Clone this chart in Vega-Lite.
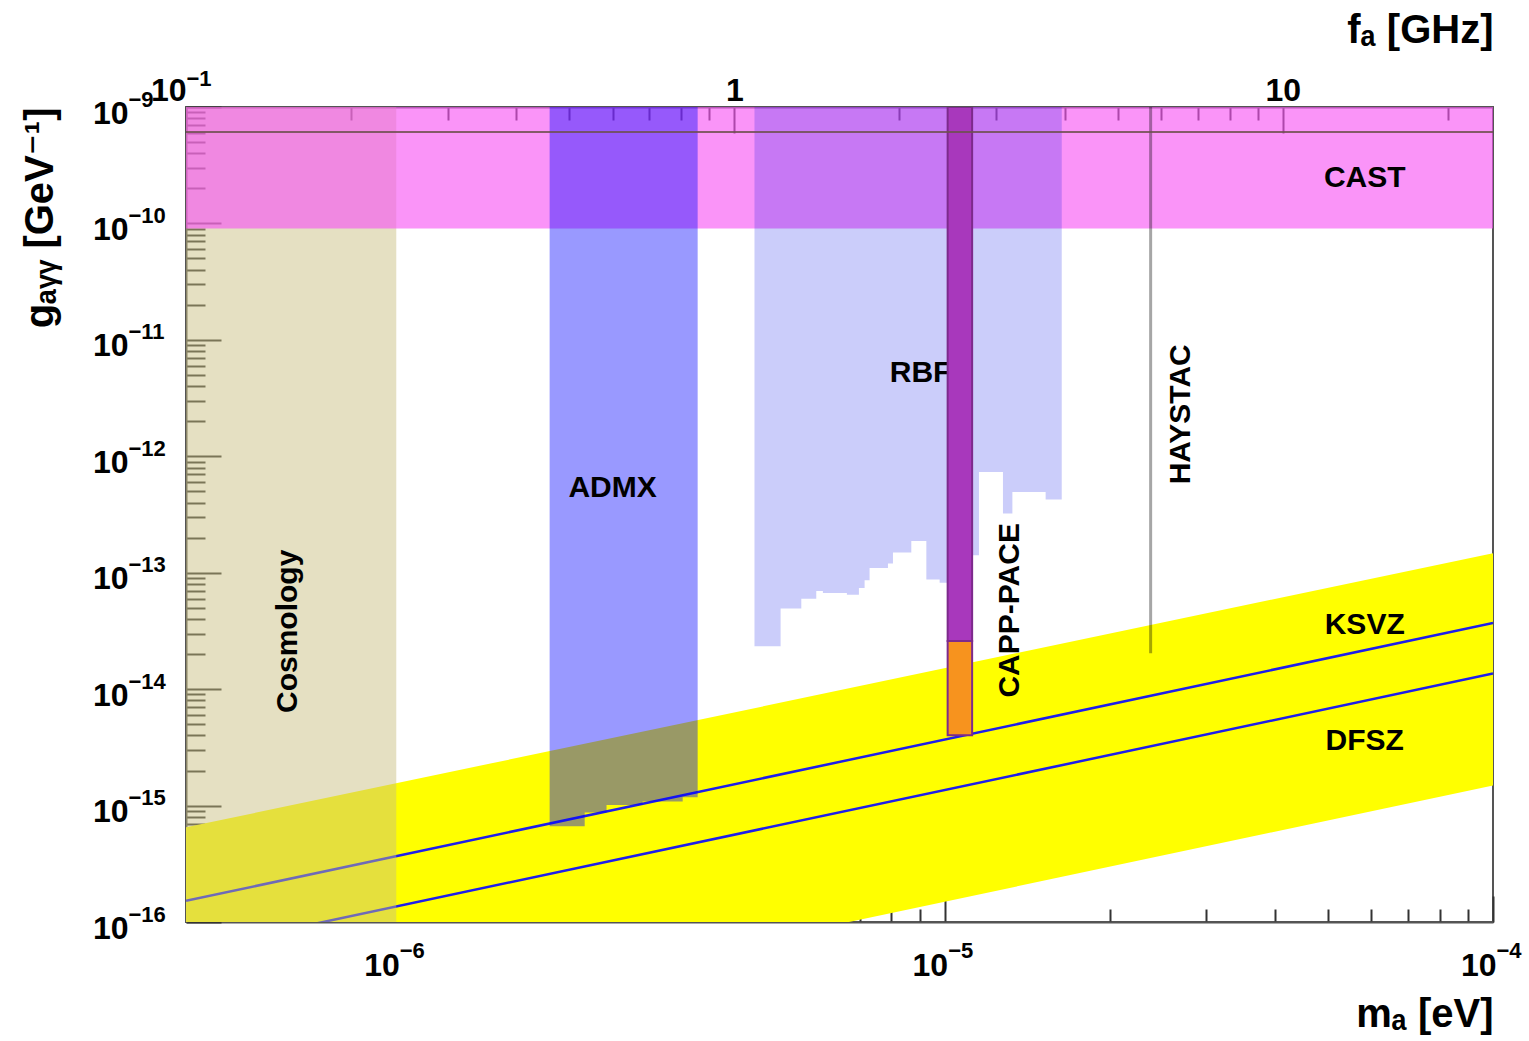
{
  "$schema": "https://vega.github.io/schema/vega-lite/v6.json",
  "width": 1307,
  "height": 815,
  "autosize": "none",
  "padding": {"left": 186, "top": 107, "right": 36, "bottom": 119},
  "background": "#ffffff",
  "view": {"stroke": "#555555", "strokeWidth": 2},
  "datasets": {
    "band": [
      {"m": 4.1357e-7, "g": 6.2e-18, "g2": 6.5e-16},
      {"m": 1e-4, "g": 1.49e-15, "g2": 1.47e-13}
    ],
    "models": [
      {"model": "KSVZ", "m": 4.1357e-7, "g": 1.52e-16},
      {"model": "KSVZ", "m": 1e-4, "g": 3.7e-14},
      {"model": "DFSZ", "m": 4.1357e-7, "g": 5.62e-17},
      {"model": "DFSZ", "m": 1e-4, "g": 1.36e-14}
    ],
    "cosmology": [{"m": 4.1357e-7, "m2": 1e-6, "g": 1e-16, "g2": 1e-9}],
    "cast": [{"m": 4.1357e-7, "m2": 1e-4, "g": 9.06e-11, "g2": 1e-9}],
    "cast_edge": [{"g": 6.11e-10}],
    "admx": [
      {"m": 1.904e-6, "g": 6.63e-16},
      {"m": 2.206e-6, "g": 8.74e-16},
      {"m": 2.418e-6, "g": 1.01e-15},
      {"m": 2.813e-6, "g": 1.086e-15},
      {"m": 3.329e-6, "g": 1.176e-15},
      {"m": 3.545e-6, "g": 1.176e-15}
    ],
    "rbf": [
      {"m": 4.5e-6, "g": 2.33e-14},
      {"m": 5.022e-6, "g": 4.92e-14},
      {"m": 5.478e-6, "g": 5.99e-14},
      {"m": 5.833e-6, "g": 6.97e-14},
      {"m": 5.998e-6, "g": 6.69e-14},
      {"m": 6.634e-6, "g": 6.48e-14},
      {"m": 6.977e-6, "g": 7.39e-14},
      {"m": 7.146e-6, "g": 8.61e-14},
      {"m": 7.297e-6, "g": 1.1e-13},
      {"m": 7.882e-6, "g": 1.2e-13},
      {"m": 8.049e-6, "g": 1.49e-13},
      {"m": 8.694e-6, "g": 1.87e-13},
      {"m": 9.261e-6, "g": 8.73e-14},
      {"m": 9.792e-6, "g": 8.22e-14},
      {"m": 1.1224e-5, "g": 1.41e-13},
      {"m": 1.155e-5, "g": 7.33e-13},
      {"m": 1.2775e-5, "g": 3.22e-13},
      {"m": 1.329e-5, "g": 4.94e-13},
      {"m": 1.5283e-5, "g": 4.25e-13},
      {"m": 1.635e-5, "g": 4.25e-13}
    ],
    "capp": [
      {"part": "scan", "m": 1.0127e-5, "m2": 1.1224e-5, "g": 2.59e-14, "g2": 1e-9},
      {"part": "reach", "m": 1.0127e-5, "m2": 1.1224e-5, "g": 4.01e-15, "g2": 2.59e-14}
    ],
    "haystac": [{"m": 2.375e-5, "g": 2.03e-14, "g2": 1e-9}],
    "labels_h": [
      {"label": "CAST", "m": 5.835e-5, "g": 2.445e-10},
      {"label": "KSVZ", "m": 5.835e-5, "g": 3.533e-14},
      {"label": "DFSZ", "m": 5.835e-5, "g": 3.559e-15},
      {"label": "ADMX", "m": 2.48e-6, "g": 5.31e-13},
      {"label": "RBF", "m": 9.04e-6, "g": 5.164e-12}
    ],
    "labels_v": [
      {"label": "HAYSTAC", "m": 2.694e-5, "g": 2.295e-12},
      {"label": "CAPP-PACE", "m": 1.314e-5, "g": 4.753e-14},
      {"label": "Cosmology", "m": 6.36e-7, "g": 3.137e-14}
    ]
  },
  "layer": [
    {
      "data": {"name": "band"},
      "mark": {"type": "area", "color": "#FFFF00", "opacity": 1, "clip": true},
      "encoding": {
        "x": {
          "field": "m", "type": "quantitative",
          "scale": {"type": "log", "domain": [4.1357e-7, 1e-4], "nice": false},
          "axis": {
            "orient": "bottom",
            "values": [5e-7, 6e-7, 7e-7, 8e-7, 9e-7, 1e-6, 2e-6, 3e-6, 4e-6, 5e-6, 6e-6, 7e-6, 8e-6, 9e-6, 1e-5, 2e-5, 3e-5, 4e-5, 5e-5, 6e-5, 7e-5, 8e-5, 9e-5, 1e-4],
            "labelExpr": "datum.value == 1e-6 || datum.value == 1e-5 || datum.value == 1e-4 ? '10' : ''",
            "labelAlign": "right",
            "labelOffset": 3,
            "labelBaseline": "alphabetic",
            "labelPadding": 53,
            "encoding": {"ticks": {"y2": {"condition": {"test": "datum.value == 1e-6 || datum.value == 1e-5 || datum.value == 1e-4", "value": -26}, "value": -13}}},
            "title": "mₐ [eV]",
            "titleX": 1307, "titleY": 104,
            "titleAlign": "right", "titleAnchor": "end", "titleBaseline": "alphabetic"
          }
        },
        "y": {
          "field": "g", "type": "quantitative", "stack": null,
          "scale": {"type": "log", "domain": [1e-16, 1e-9], "nice": false},
          "axis": {
            "orient": "left",
            "values": [1e-16, 2e-16, 3e-16, 4e-16, 5e-16, 6e-16, 7e-16, 8e-16, 9e-16, 1e-15, 2e-15, 3e-15, 4e-15, 5e-15, 6e-15, 7e-15, 8e-15, 9e-15, 1e-14, 2e-14, 3e-14, 4e-14, 5e-14, 6e-14, 7e-14, 8e-14, 9e-14, 1e-13, 2e-13, 3e-13, 4e-13, 5e-13, 6e-13, 7e-13, 8e-13, 9e-13, 1e-12, 2e-12, 3e-12, 4e-12, 5e-12, 6e-12, 7e-12, 8e-12, 9e-12, 1e-11, 2e-11, 3e-11, 4e-11, 5e-11, 6e-11, 7e-11, 8e-11, 9e-11, 1e-10, 2e-10, 3e-10, 4e-10, 5e-10, 6e-10, 7e-10, 8e-10, 9e-10, 1e-9],
            "labelExpr": "indexof([1e-16,1e-15,1e-14,1e-13,1e-12,1e-11,1e-10,1e-9], datum.value) >= 0 ? '10' : ''",
            "labelAlign": "right",
            "labelBaseline": "alphabetic",
            "labelOffset": 16,
            "labelPadding": 58,
            "encoding": {"ticks": {"x2": {"condition": {"test": "indexof([1e-16,1e-15,1e-14,1e-13,1e-12,1e-11,1e-10,1e-9], datum.value) >= 0", "value": 35}, "value": 19}}},
            "title": "gₐᵧᵧ [GeV⁻¹]",
            "titleAngle": 270,
            "titleX": -134, "titleY": 0,
            "titleAlign": "right", "titleAnchor": "end", "titleBaseline": "alphabetic"
          }
        },
        "y2": {"field": "g2"}
      }
    },
    {
      "data": {"name": "models"},
      "mark": {"type": "line", "color": "#1E1EEB", "strokeWidth": 2.5, "clip": true},
      "encoding": {
        "x": {
          "field": "m", "type": "quantitative",
          "scale": {"type": "log", "domain": [4.1357e-7, 1e-4], "nice": false},
          "axis": {
            "orient": "bottom",
            "values": [1e-6, 1e-5, 1e-4],
            "labelExpr": "datum.value == 1e-6 ? '−6' : datum.value == 1e-5 ? '−5' : '−4'",
            "labelAlign": "left",
            "labelOffset": 3,
            "labelBaseline": "alphabetic",
            "labelPadding": 35,
            "labelFontSize": 22,
            "ticks": false, "domain": false, "title": null
          }
        },
        "y": {
          "field": "g", "type": "quantitative",
          "scale": {"type": "log", "domain": [1e-16, 1e-9], "nice": false},
          "axis": {
            "orient": "left",
            "values": [1e-16, 1e-15, 1e-14, 1e-13, 1e-12, 1e-11, 1e-10, 1e-9],
            "labelExpr": "['−16','−15','−14','−13','−12','−11','−10','−9'][indexof([1e-16,1e-15,1e-14,1e-13,1e-12,1e-11,1e-10,1e-9], datum.value)]",
            "labelAlign": "left",
            "labelBaseline": "alphabetic",
            "labelOffset": -1,
            "labelPadding": 58,
            "labelFontSize": 22,
            "ticks": false, "domain": false, "title": null
          }
        },
        "detail": {"field": "model"}
      }
    },
    {
      "data": {"name": "cosmology"},
      "mark": {"type": "rect", "color": "#C9BE80", "opacity": 0.48, "clip": true},
      "encoding": {
        "x": {
          "field": "m", "type": "quantitative",
          "scale": {"type": "log", "domain": [4.1357e-7, 1e-4], "nice": false},
          "axis": {
            "orient": "top",
            "values": [4.1357e-7],
            "labelExpr": "'−1'",
            "labelAlign": "left",
            "labelBaseline": "alphabetic",
            "labelPadding": 22,
            "labelFontSize": 22,
            "ticks": false, "domain": false, "title": null
          }
        },
        "x2": {"field": "m2"},
        "y": {"field": "g", "type": "quantitative", "scale": {"type": "log", "domain": [1e-16, 1e-9], "nice": false}, "axis": null},
        "y2": {"field": "g2"}
      }
    },
    {
      "data": {"name": "cast"},
      "mark": {"type": "rect", "color": "#F754F4", "opacity": 0.625, "clip": true},
      "encoding": {
        "x": {"field": "m", "type": "quantitative", "scale": {"type": "log", "domain": [4.1357e-7, 1e-4], "nice": false}, "axis": null},
        "x2": {"field": "m2"},
        "y": {"field": "g", "type": "quantitative", "scale": {"type": "log", "domain": [1e-16, 1e-9], "nice": false}, "axis": null},
        "y2": {"field": "g2"}
      }
    },
    {
      "data": {"name": "admx"},
      "mark": {"type": "area", "color": "#0000FF", "opacity": 0.4, "interpolate": "step-after", "clip": true},
      "encoding": {
        "x": {"field": "m", "type": "quantitative", "scale": {"type": "log", "domain": [4.1357e-7, 1e-4], "nice": false}, "axis": null},
        "y": {"field": "g", "type": "quantitative", "stack": null, "scale": {"type": "log", "domain": [1e-16, 1e-9], "nice": false}, "axis": null},
        "y2": {"datum": 1e-9}
      }
    },
    {
      "data": {"name": "rbf"},
      "mark": {"type": "area", "color": "#0A14E6", "opacity": 0.21, "interpolate": "step-after", "clip": true},
      "encoding": {
        "x": {"field": "m", "type": "quantitative", "scale": {"type": "log", "domain": [4.1357e-7, 1e-4], "nice": false}, "axis": null},
        "y": {"field": "g", "type": "quantitative", "stack": null, "scale": {"type": "log", "domain": [1e-16, 1e-9], "nice": false}, "axis": null},
        "y2": {"datum": 1e-9}
      }
    },
    {
      "data": {"name": "labels_h"},
      "mark": {"type": "text", "font": "Liberation Sans", "fontWeight": "bold", "fontSize": 30, "color": "#000000", "align": "center", "baseline": "middle", "clip": true},
      "encoding": {
        "x": {"field": "m", "type": "quantitative", "scale": {"type": "log", "domain": [4.1357e-7, 1e-4], "nice": false}, "axis": null},
        "y": {"field": "g", "type": "quantitative", "scale": {"type": "log", "domain": [1e-16, 1e-9], "nice": false}, "axis": null},
        "text": {"field": "label"}
      }
    },
    {
      "data": {"name": "labels_v"},
      "mark": {"type": "text", "font": "Liberation Sans", "fontWeight": "bold", "fontSize": 30, "color": "#000000", "align": "center", "baseline": "middle", "angle": 270, "clip": true},
      "encoding": {
        "x": {"field": "m", "type": "quantitative", "scale": {"type": "log", "domain": [4.1357e-7, 1e-4], "nice": false}, "axis": null},
        "y": {"field": "g", "type": "quantitative", "scale": {"type": "log", "domain": [1e-16, 1e-9], "nice": false}, "axis": null},
        "text": {"field": "label"}
      }
    },
    {
      "data": {"name": "capp"},
      "mark": {"type": "rect", "stroke": "#7D2A8C", "strokeWidth": 2, "opacity": 1, "clip": true},
      "encoding": {
        "x": {"field": "m", "type": "quantitative", "scale": {"type": "log", "domain": [4.1357e-7, 1e-4], "nice": false}, "axis": null},
        "x2": {"field": "m2"},
        "y": {"field": "g", "type": "quantitative", "scale": {"type": "log", "domain": [1e-16, 1e-9], "nice": false}, "axis": null},
        "y2": {"field": "g2"},
        "fill": {"field": "part", "type": "nominal", "scale": {"domain": ["scan", "reach"], "range": ["#A838BC", "#F7931E"]}, "legend": null}
      }
    },
    {
      "data": {"name": "haystac"},
      "mark": {"type": "rule", "color": "#000000", "opacity": 0.35, "strokeWidth": 3, "clip": true},
      "encoding": {
        "x": {
          "field": "m", "type": "quantitative",
          "scale": {"type": "log", "domain": [4.1357e-7, 1e-4], "nice": false},
          "axis": {
            "orient": "top",
            "values": [4.1357e-7, 8.2714e-7, 1.24071e-6, 1.65428e-6, 2.06785e-6, 2.48142e-6, 2.89499e-6, 3.30856e-6, 3.72213e-6, 4.1357e-6, 8.2714e-6, 1.24071e-5, 1.65428e-5, 2.06785e-5, 2.48142e-5, 2.89499e-5, 3.30856e-5, 3.72213e-5, 4.1357e-5, 8.2714e-5],
            "labelExpr": "datum.value == 4.1357e-7 ? '10' : datum.value == 4.1357e-6 ? '1' : datum.value == 4.1357e-5 ? '10' : ''",
            "labelAlign": {"condition": {"test": "datum.value == 4.1357e-7", "value": "right"}, "value": "center"},
            "labelBaseline": "alphabetic",
            "labelPadding": 7,
            "encoding": {"ticks": {"y2": {"condition": {"test": "datum.value == 4.1357e-7 || datum.value == 4.1357e-6 || datum.value == 4.1357e-5", "value": 26}, "value": 13}}},
            "title": "fₐ [GHz]",
            "titleX": 1307, "titleY": -65,
            "titleAlign": "right", "titleAnchor": "end", "titleBaseline": "alphabetic"
          }
        },
        "y": {"field": "g", "type": "quantitative", "scale": {"type": "log", "domain": [1e-16, 1e-9], "nice": false}, "axis": null},
        "y2": {"field": "g2"}
      }
    },
    {
      "data": {"name": "cast_edge"},
      "mark": {"type": "rule", "color": "#6E5050", "opacity": 0.85, "strokeWidth": 2},
      "encoding": {
        "y": {"field": "g", "type": "quantitative", "scale": {"type": "log", "domain": [1e-16, 1e-9], "nice": false}, "axis": null}
      }
    }
  ],
  "resolve": {"axis": {"x": "independent", "y": "independent"}},
  "config": {
    "axis": {
      "grid": false,
      "zindex": 1,
      "tickSize": 0,
      "tickColor": "#333333",
      "tickWidth": 2,
      "domainColor": "#555555",
      "domainWidth": 2,
      "labelFont": "Liberation Sans, DejaVu Sans, sans-serif",
      "labelFontWeight": "bold",
      "labelFontSize": 32,
      "labelColor": "#000000",
      "labelFlush": false,
      "labelOverlap": false,
      "labelBound": false,
      "titleFont": "Liberation Sans, DejaVu Sans, sans-serif",
      "titleFontWeight": "bold",
      "titleFontSize": 40,
      "titleColor": "#000000"
    }
  }
}
